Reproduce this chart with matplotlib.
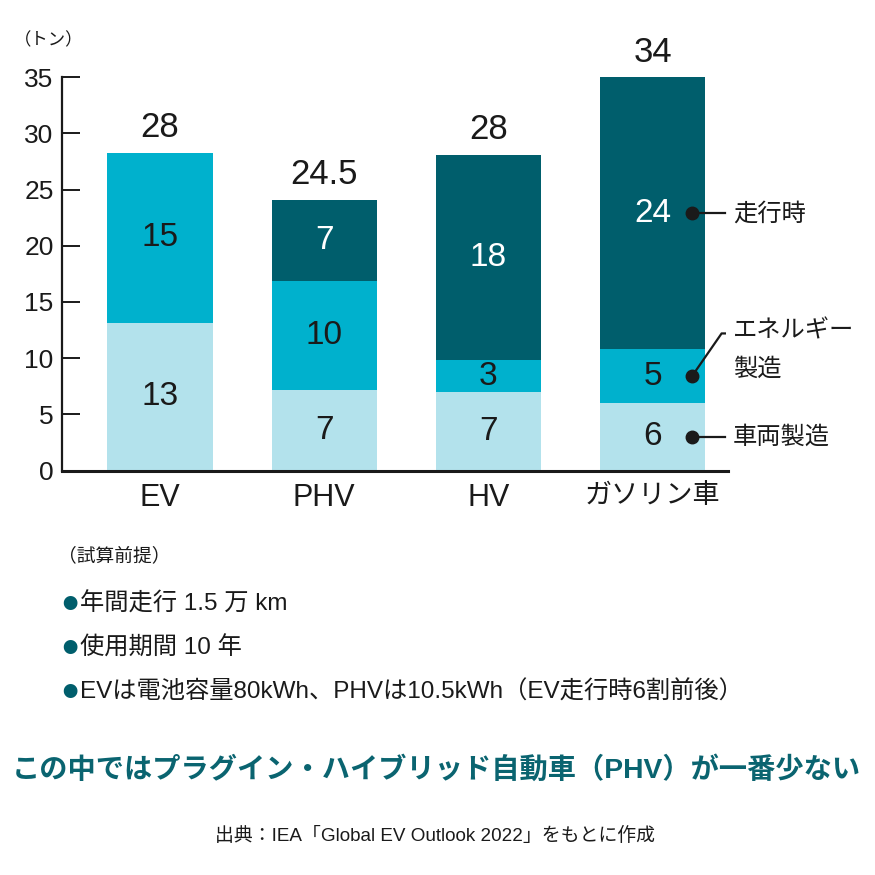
import matplotlib.pyplot as plt
from matplotlib import font_manager

# データ
categories = ["EV", "PHV", "HV", "ガソリン車"]
vehicle_mfg = [13.1, 7.2, 7.0, 6.0]     # 車両製造
energy_mfg = [15.2, 9.7, 2.8, 4.8]      # エネルギー製造
driving = [0.0, 7.2, 18.3, 24.2]        # 走行時
vehicle_lbl = ["13", "7", "7", "6"]
energy_lbl = ["15", "10", "3", "5"]
driving_lbl = ["", "7", "18", "24"]
total_lbl = ["28", "24.5", "28", "34"]
yticks = [0, 5, 10, 15, 20, 25, 30, 35]
series_names = ["車両製造", "エネルギー\n製造", "走行時"]
notes = ["年間走行 1.5 万 km", "使用期間 10 年",
         "EVは電池容量80kWh、PHVは10.5kWh（EV走行時6割前後）"]

LIGHT = "#b3e2ec"
MID = "#00b1cd"
DARK = "#005e6c"
TEAL_TXT = "#0a6470"
INK = "#1a1a1a"

names = {f.name for f in font_manager.fontManager.ttflist}
NARROW = "Liberation Sans Narrow" if "Liberation Sans Narrow" in names else "Liberation Sans"
FAM = [NARROW, "Noto Sans CJK JP", "DejaVu Sans"]
CJK = ["Noto Sans CJK JP", "DejaVu Sans"]
plt.rcParams["font.family"] = FAM

W = H = 875
fig = plt.figure(figsize=(8.75, 8.75), dpi=100)


def fx(x):
    return x / W


def fy(y):
    return 1 - y / H


ax = fig.add_axes([fx(62), fy(470.5), 666 / W, 393.2 / H])
x = list(range(len(categories)))
bw = 0.64

bottom2 = vehicle_mfg
bottom3 = [a + b for a, b in zip(vehicle_mfg, energy_mfg)]
ax.bar(x, vehicle_mfg, bw, color=LIGHT, zorder=2)
ax.bar(x, energy_mfg, bw, bottom=bottom2, color=MID, zorder=2)
ax.bar(x, driving, bw, bottom=bottom3, color=DARK, zorder=2)

# セグメント内の数値
for i in x:
    ax.text(i, vehicle_mfg[i] / 2, vehicle_lbl[i], ha="center", va="center",
            fontsize=24, color=INK, family=FAM)
    ax.text(i, bottom2[i] + energy_mfg[i] / 2, energy_lbl[i], ha="center", va="center",
            fontsize=24, color=INK, family=FAM)
    if driving[i] > 0:
        ax.text(i, bottom3[i] + driving[i] / 2, driving_lbl[i], ha="center", va="center",
                fontsize=24, color="white", family=FAM)
    top = bottom3[i] + driving[i]
    ax.text(i, top + 0.75, total_lbl[i], ha="center", va="bottom",
            fontsize=25, color=INK, family=FAM)

ax.set_ylim(0, 35)
ax.set_xlim(-0.597, 3.459)
ax.set_yticks(yticks)
ax.set_yticklabels([str(t) for t in yticks], fontsize=19, color=INK)
ax.set_xticks(x)
ax.set_xticklabels(categories, fontsize=22, color=INK)
ax.get_xticklabels()[-1].set_fontsize(19.5)
ax.tick_params(axis="y", direction="in", length=13, width=1.4, pad=6, colors=INK)
ax.tick_params(axis="x", length=0, pad=9)
for s in ["top", "right"]:
    ax.spines[s].set_visible(False)
ax.spines["left"].set_linewidth(1.6)
ax.spines["bottom"].set_linewidth(2.2)
ax.spines["left"].set_color(INK)
ax.spines["bottom"].set_color(INK)

# 凡例の代わりの引き出し線（ガソリン車の棒）
gi = 3
dot_x = gi + 0.24
line_x = gi + 0.44
text_x = gi + 0.49
dot_y = [vehicle_mfg[gi] / 2, bottom2[gi] + energy_mfg[gi] / 2, bottom3[gi] + driving[gi] / 2]
ax.plot([dot_x] * 3, dot_y, "o", ms=9, color=INK, zorder=4, clip_on=False)
# 車両製造
ax.plot([dot_x, line_x], [dot_y[0], dot_y[0]], color=INK, lw=1.6, zorder=3, clip_on=False)
ax.text(text_x, dot_y[0], series_names[0], ha="left", va="center",
        fontsize=17.5, color=INK, family=CJK, clip_on=False)
# 走行時
ax.plot([dot_x, line_x], [dot_y[2], dot_y[2]], color=INK, lw=1.6, zorder=3, clip_on=False)
ax.text(text_x, dot_y[2], series_names[2], ha="left", va="center",
        fontsize=17.5, color=INK, family=CJK, clip_on=False)
# エネルギー製造
ey = bottom3[gi] + 1.4
ax.plot([dot_x, line_x - 0.02, line_x], [dot_y[1], ey, ey], color=INK, lw=1.6,
        zorder=3, clip_on=False)
ax.text(text_x, ey + 1.4, series_names[1], ha="left", va="top", linespacing=1.6,
        fontsize=17.5, color=INK, family=CJK, clip_on=False)

# 単位
fig.text(fx(14), fy(40), "（トン）", ha="left", va="center", fontsize=12.5,
         color=INK, family=CJK)

# 試算前提
fig.text(fx(58), fy(556), "（試算前提）", ha="left", va="center", fontsize=13.5,
         color=INK, family=CJK)
for yy, note in zip([604, 648, 692], notes):
    fig.text(fx(62), fy(yy), "●", ha="left", va="center", fontsize=11,
             color=DARK, family=CJK)
    fig.text(fx(80), fy(yy), note, ha="left", va="center", fontsize=17.5,
             color=INK, family=FAM)

# 見出し
fig.text(fx(436), fy(770), "この中ではプラグイン・ハイブリッド自動車（PHV）が一番少ない",
         ha="center", va="center", fontsize=20.3, fontweight="bold",
         color=TEAL_TXT, family=FAM)

# 出典
fig.text(fx(435), fy(836), "出典：IEA「Global EV Outlook 2022」をもとに作成",
         ha="center", va="center", fontsize=13.6, color=INK, family=FAM)

fig.savefig("out.png", dpi=100, facecolor="white")
